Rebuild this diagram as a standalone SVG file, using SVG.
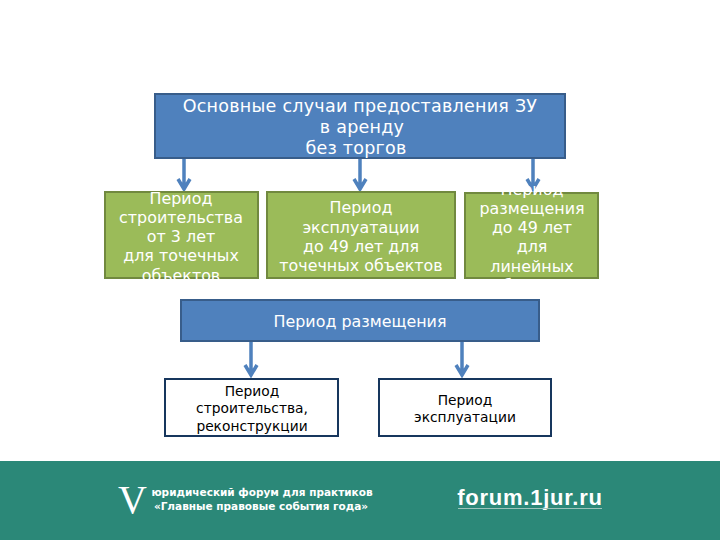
<svg xmlns="http://www.w3.org/2000/svg" width="720" height="540" viewBox="0 0 720 540">
<style>
text{font-family:"DejaVu Sans","Liberation Sans",sans-serif;text-anchor:middle}
.blue{fill:#4f81bd;stroke:#385d8a;stroke-width:2}
.green{fill:#9bbb59;stroke:#71893f;stroke-width:2}
.white{fill:#fff;stroke:#17365d;stroke-width:2}
.t{fill:#fff;font-size:15.9px}
.h{fill:#fff;font-size:17.500px;letter-spacing:.25px}
.d{fill:#000;font-size:13.800px}
.f{fill:#fff;font-size:10.500px;font-weight:bold}
.c{fill:none;stroke:#4f81bd;stroke-width:3.500}
</style>
<rect width="720" height="540" fill="#fff"/>
<g id="footer">
<rect x="0" y="461" width="720" height="79" fill="#2b8878"/>
<text x="132.500" y="513" fill="#fff" style="font-family:'Liberation Serif',serif;font-size:40px">V</text>
<text class="f" x="262" y="496">юридический форум для практиков</text>
<text class="f" x="261" y="510">«Главные правовые события года»</text>
<text x="530" y="505" fill="#fff" font-weight="bold" letter-spacing="0.75" style="font-size:22px;font-family:'Liberation Sans',sans-serif">forum.1jur.ru</text>
<line x1="458" y1="508.500" x2="602" y2="508.500" stroke="#9cc4bc" stroke-width="1"/>
</g>
<g id="connectors">
<path class="c" d="M184 158V188M178 179L184 189L190 179"/>
<path class="c" d="M360 158V188M354 179L360 189L366 179"/>
<path class="c" d="M533 158V188M527 179L533 189L539 179"/>
<path class="c" d="M251 341V373M245 365L251 375L257 365"/>
<path class="c" d="M462 341V373M456 365L462 375L468 365"/>
</g>
<g id="n-top"><rect class="blue" x="155" y="94" width="410" height="64"/>
<text class="h" x="360" y="112">Основные случаи предоставления ЗУ</text>
<text class="h" x="362" y="133">в аренду</text>
<text class="h" x="356" y="154">без торгов</text></g>
<g id="n-g1"><rect class="green" x="105" y="192" width="153" height="86"/>
<text class="t" x="181" y="204">Период</text><text class="t" x="181" y="223">строительства</text><text class="t" x="181" y="242">от 3 лет</text><text class="t" x="181" y="261">для точечных</text><text class="t" x="181" y="281">объектов</text></g>
<g id="n-g2"><rect class="green" x="267" y="192" width="188" height="86"/>
<text class="t" x="361" y="213">Период</text><text class="t" x="361" y="233">эксплуатации</text><text class="t" x="361" y="252">до 49 лет для</text><text class="t" x="361" y="271">точечных объектов</text></g>
<g id="n-g3"><rect class="green" x="465" y="193" width="133" height="85"/>
<text class="t" x="532" y="195">Период</text><text class="t" x="532" y="214">размещения</text><text class="t" x="532" y="233">до 49 лет</text><text class="t" x="532" y="252">для</text><text class="t" x="532" y="272">линейных</text><text class="t" x="532" y="291">объектов</text></g>
<g id="n-mid"><rect class="blue" x="181" y="300" width="358" height="41"/>
<text class="t" x="360" y="327">Период размещения</text></g>
<g id="n-w1"><rect class="white" x="165" y="379" width="173" height="57"/>
<text class="d" x="252" y="396">Период</text><text class="d" x="252" y="413">строительства,</text><text class="d" x="252" y="431">реконструкции</text></g>
<g id="n-w2"><rect class="white" x="379" y="379" width="172" height="57"/>
<text class="d" x="465" y="405">Период</text><text class="d" x="465" y="422">эксплуатации</text></g>
</svg>
